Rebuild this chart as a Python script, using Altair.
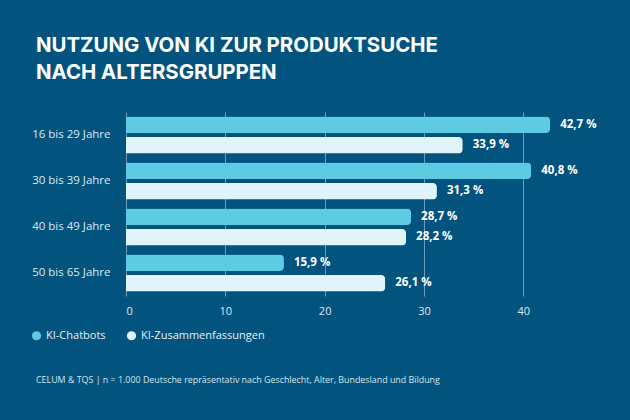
import altair as alt
import pandas as pd

groups = ["16 bis 29 Jahre", "30 bis 39 Jahre", "40 bis 49 Jahre", "50 bis 65 Jahre"]
series = ["KI-Chatbots", "KI-Zusammenfassungen"]
chatbots = [42.7, 40.8, 28.7, 15.9]
summaries = [33.9, 31.3, 28.2, 26.1]
x_ticks = [0, 10, 20, 30, 40]
title_lines = ["NUTZUNG VON KI ZUR PRODUKTSUCHE", "NACH ALTERSGRUPPEN"]
footnote = "CELUM & TQS | n = 1.000 Deutsche repräsentativ nach Geschlecht, Alter, Bundesland und Bildung"

BG = "#02547f"
C1 = "#5dcbe2"
C2 = "#e1f3fb"

rows = []
for g, a, b in zip(groups, chatbots, summaries):
    rows.append({"group": g, "series": series[0], "value": a})
    rows.append({"group": g, "series": series[1], "value": b})
df = pd.DataFrame(rows)
df["label"] = df["value"].map(lambda v: f"{v:.1f}".replace(".", ",") + " %")

y = alt.Y("group:N", sort=groups, title=None,
          scale=alt.Scale(paddingInner=0, paddingOuter=0),
          axis=alt.Axis(labelColor="#dce9f1", labelFontSize=11.5, labelFont="Open Sans",
                        labelPadding=16, ticks=False, domain=False))
yoff = alt.YOffset("series:N", sort=series,
                   scale=alt.Scale(paddingInner=0.2, paddingOuter=0.22))
x = alt.X("value:Q", title=None,
          scale=alt.Scale(domain=[0, 45], nice=False),
          axis=alt.Axis(values=x_ticks, grid=True, gridColor="#6d9cba", gridWidth=1,
                        domain=False, ticks=False, labelColor="#dce9f1", labelFontSize=11,
                        labelFont="Open Sans", labelPadding=9))

bars = alt.Chart(df).mark_bar(cornerRadiusEnd=4).encode(
    x=x, y=y, yOffset=yoff,
    color=alt.Color("series:N", sort=series,
                    scale=alt.Scale(domain=series, range=[C1, C2]),
                    legend=alt.Legend(title=None, orient="none", direction="horizontal",
                                      legendX=-95, legendY=218, symbolType="circle",
                                      symbolSize=85, symbolStrokeWidth=0,
                                      labelColor="#e3eef5", labelFontSize=11,
                                      labelFont="Open Sans", columnPadding=20,
                                      symbolOffset=0, labelOffset=4)),
)

labels = alt.Chart(df).mark_text(align="left", baseline="middle", dx=10, fontSize=11.5,
                                 fontWeight="bold", font="Open Sans", color="white").encode(
    x="value:Q", y=alt.Y("group:N", sort=groups), yOffset=yoff, text="label:N"
)

foot = alt.Chart(pd.DataFrame({"t": [footnote]})).mark_text(
    align="left", baseline="middle", fontSize=8.9, font="Open Sans", color="#d5e4ee"
).encode(x=alt.value(-90), y=alt.value(268), text="t:N")

chart = alt.layer(bars, labels, foot).properties(
    width=447, height=184,
    title=alt.TitleParams(text=title_lines, anchor="start", dx=-90, offset=29,
                          font="Inter", fontSize=20.4, fontWeight="bold", color="white",
                          lineHeight=27, frame="group"),
    autosize=alt.AutoSizeParams(type="none"),
    padding={"left": 126, "top": 112, "right": 57, "bottom": 124},
).configure(background=BG).configure_view(stroke=None)

chart.save("out.html", embed_options={"renderer": "svg", "actions": False})
